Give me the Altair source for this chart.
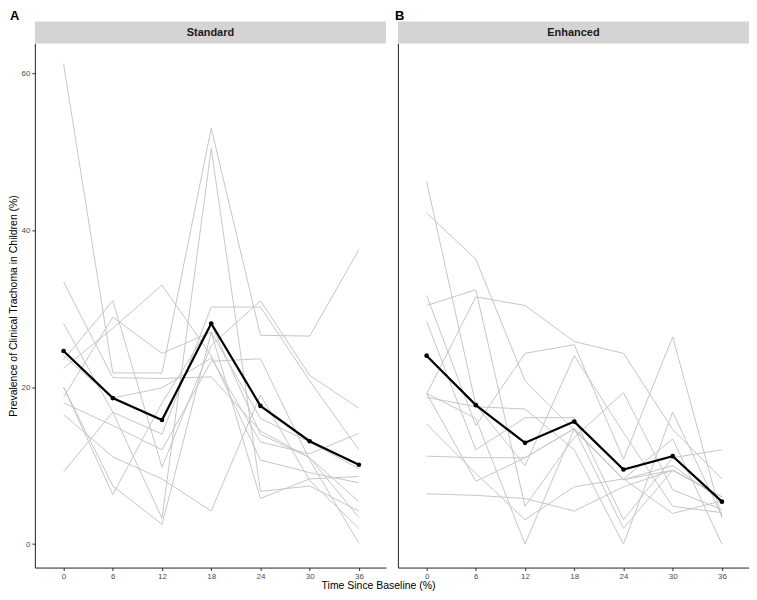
import altair as alt
import pandas as pd

# ---- data ----
times = [0, 6, 12, 18, 24, 30, 36]

standard_lines = [
    [61.2, 21.8, 21.8, 53.0, 26.6, 26.5, 37.5],
    [22.4, 27.5, 33.0, 24.0, 10.7, 9.1, 7.8],
    [23.5, 31.0, 9.8, 25.3, 31.0, 21.5, 17.3],
    [33.4, 21.2, 21.1, 21.3, 14.4, 11.0, 5.4],
    [28.1, 16.8, 14.0, 30.2, 30.2, 20.8, 12.0],
    [24.0, 18.6, 19.9, 23.7, 13.0, 11.5, 14.1],
    [18.7, 28.9, 24.3, 27.0, 5.8, 8.3, 8.6],
    [18.0, 15.1, 12.0, 23.3, 23.6, 10.7, 0.1],
    [16.5, 11.1, 8.3, 4.2, 19.0, 8.1, 2.0],
    [9.2, 16.8, 3.3, 50.4, 6.7, 7.4, 4.2],
    [20.0, 7.4, 2.5, 27.0, 16.0, 13.0, 9.6],
    [20.0, 6.3, 18.0, 28.0, 14.0, 11.0, 3.4],
]

enhanced_lines = [
    [46.2, 17.7, 10.0, 24.0, 14.2, 4.8, 4.0],
    [42.2, 36.3, 20.8, 14.5, 8.3, 13.4, 0.0],
    [30.4, 32.4, 4.8, 13.6, 19.3, 6.9, 4.4],
    [19.1, 31.5, 30.4, 25.8, 24.3, 14.6, 8.3],
    [31.7, 15.1, 24.3, 25.4, 10.8, 26.4, 3.3],
    [28.4, 12.0, 16.1, 16.1, 3.1, 11.0, 12.0],
    [18.7, 17.5, 17.2, 12.0, 0.0, 16.8, 3.6],
    [15.3, 9.0, 3.1, 7.3, 8.3, 3.9, 5.5],
    [11.2, 11.0, 11.0, 14.7, 2.0, 9.4, 6.0],
    [6.4, 6.2, 5.8, 4.2, 7.3, 9.4, 6.0],
    [19.2, 16.0, 0.0, 14.7, 8.2, 10.0, 5.5],
    [19.2, 8.0, 11.0, 14.7, 8.2, 9.4, 6.0],
]

standard_mean = [24.6, 18.6, 15.8, 28.1, 17.6, 13.1, 10.1]
enhanced_mean = [24.0, 17.7, 12.9, 15.6, 9.5, 11.2, 5.4]

y_ticks = [0, 20, 40, 60]

W = 353
H = 527
SH = 22      # strip height
TOPPAD = 11  # room above strip for the panel letter
FONT = "Liberation Sans"


def panel(lines, mean, label, letter, letter_dx, show_y):
    rows = []
    for i, vals in enumerate(lines):
        for t, v in zip(times, vals):
            rows.append({"community": i, "time": t, "value": v})
    df = pd.DataFrame(rows)
    mdf = pd.DataFrame({"time": times, "value": mean})

    xs = alt.Scale(domain=[-3.5, 39.3], nice=False, zero=False)
    ys = alt.Scale(domain=[-3.0, 63.8], nice=False, zero=False)
    xaxis = alt.Axis(values=times, title=None, grid=False, format="d")
    if show_y:
        yaxis = alt.Axis(values=y_ticks, grid=False,
                         title="Prevalence of Clinical Trachoma in Children (%)")
    else:
        yaxis = alt.Axis(values=y_ticks, grid=False, labels=False, ticks=False, title=None)

    gray = alt.Chart(df).mark_line(color="#C6C6C6", strokeWidth=1).encode(
        x=alt.X("time:Q", scale=xs, axis=xaxis),
        y=alt.Y("value:Q", scale=ys, axis=yaxis),
        detail="community:N",
    )
    mline = alt.Chart(mdf).mark_line(color="black", strokeWidth=2.2).encode(
        x=alt.X("time:Q", scale=xs),
        y=alt.Y("value:Q", scale=ys),
    )
    mpts = alt.Chart(mdf).mark_circle(color="black", size=22, opacity=1).encode(
        x=alt.X("time:Q", scale=xs),
        y=alt.Y("value:Q", scale=ys),
    )
    body = (gray + mline + mpts).properties(width=W, height=H)

    sdf = pd.DataFrame({"lab": [label], "letter": [letter]})
    srect = alt.Chart(sdf).mark_rect(color="#D4D4D4").encode(
        x=alt.value(0), x2=alt.value(W), y=alt.value(TOPPAD), y2=alt.value(TOPPAD + SH)
    )
    stext = alt.Chart(sdf).mark_text(
        font=FONT, fontSize=11, fontWeight="bold", color="#1A1A1A", baseline="middle"
    ).encode(x=alt.value(W / 2), y=alt.value(TOPPAD + SH / 2 + 1), text="lab:N")
    ltext = alt.Chart(sdf).mark_text(
        font=FONT, fontSize=13, fontWeight="bold", color="black",
        baseline="top", align="left"
    ).encode(x=alt.value(letter_dx), y=alt.value(-1), text="letter:N")
    strip = (srect + stext + ltext).properties(width=W, height=TOPPAD + SH)

    return alt.vconcat(strip, body, spacing=0)


left = panel(standard_lines, standard_mean, "Standard", "A", -25, True)
right = panel(enhanced_lines, enhanced_mean, "Enhanced", "B", -3, False)

chart = alt.hconcat(left, right, spacing=9).properties(
    padding=0,
    title=alt.TitleParams("Time Since Baseline (%)", orient="bottom", anchor="middle",
                          font=FONT, fontSize=10.5, fontWeight="normal", color="black",
                          offset=1)
).configure_view(stroke=None).configure_axis(
    domainColor="#222222", domainWidth=1, tickColor="#333333", tickSize=3,
    labelFont=FONT, labelFontSize=8, labelColor="#4D4D4D",
    titleFont=FONT, titleFontSize=10.5, titleFontWeight="normal", titleColor="black",
    labelPadding=2, titlePadding=3,
)

chart.save("out.html", embed_options={"renderer": "svg", "actions": False})
